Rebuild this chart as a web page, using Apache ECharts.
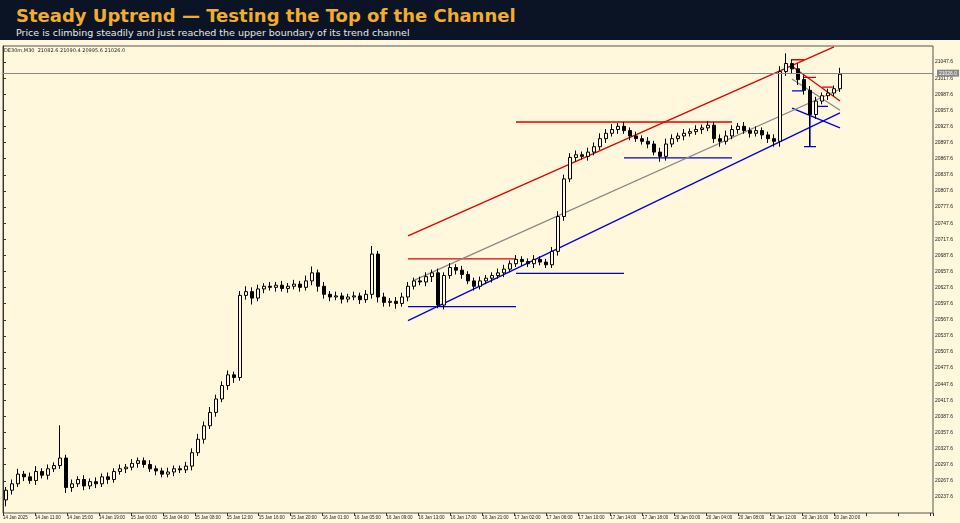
<!DOCTYPE html>
<html>
<head>
<meta charset="utf-8">
<script src="https://cdn.jsdelivr.net/npm/echarts@6/dist/echarts.min.js"></script>
<style>
  html, body { margin: 0; padding: 0; background: #fff8dc; }
  #head { height: 40px; background: #0b1424; padding: 0 16px; box-sizing: border-box; }
  #head h1 { margin: 0; padding-top: 5px; font: bold 18px "DejaVu Sans", sans-serif; color: #f0ad2e; }
  #head p { margin: 1px 0 0; font: 9.5px "DejaVu Sans", sans-serif; color: #e8e8e8; }
  #chart { width: 960px; height: 483px; }
</style>
</head>
<body>
<div id="head">
  <h1>Steady Uptrend — Testing the Top of the Channel</h1>
  <p>Price is climbing steadily and just reached the upper boundary of its trend channel</p>
</div>
<div id="chart"></div>
<script>
// closes per bar (open = previous close)
const firstOpen = 20232;
const closes = [
  20250, 20262, 20280, 20275, 20268, 20285, 20278, 20290, 20296,
  20310, 20255,
  20262, 20270, 20258, 20266, 20262, 20275, 20270, 20285, 20290,
  20293, 20300, 20305, 20298, 20290, 20286, 20280, 20284, 20290, 20288, 20295,
  20320, 20345, 20370, 20395, 20420, 20445, 20465, 20460,
  20613,
  20620, 20608, 20625, 20630, 20628, 20632, 20626, 20630, 20634, 20628, 20640, 20655,
  20630, 20615, 20610, 20612, 20606, 20610, 20612, 20605, 20615, 20690,
  20610, 20600, 20602, 20598, 20610,
  20630, 20640, 20638, 20648, 20655, 20595, 20650,
  20665, 20660, 20652, 20640, 20630, 20640, 20645, 20650, 20655,
  20662, 20672, 20680, 20676, 20672, 20680, 20675, 20670,
  20695, 20760, 20830, 20870, 20875,
  20872, 20880, 20890, 20905, 20915, 20922, 20928, 20920, 20910,
  20905, 20900, 20895, 20880, 20872, 20895, 20905, 20910,
  20915, 20918, 20922, 20925, 20930, 20905, 20900, 20910, 20922,
  20928, 20920, 20915, 20920, 20912, 20905, 20900, 21030,
  21045, 21035, 21015, 20995, 20950, 20975, 20985, 20990, 20998, 21025
];
// upper / lower wick length per bar
const wickHi = [
  6, 8, 10, 6, 8, 10, 6, 8, 6, 61, 6, 8, 6, 8, 6, 8, 6, 8, 6, 8,
  6, 8, 6, 6, 8, 6, 6, 8, 6, 6, 8, 8, 10, 8, 10, 8, 8, 8, 6, 8,
  10, 8, 8, 6, 8, 6, 8, 6, 8, 6, 10, 12, 6, 8, 6, 8, 6, 6, 8, 6,
  8, 15, 6, 8, 6, 8, 8, 8, 6, 8, 8, 6, 8, 6, 8, 6, 8, 6, 6, 8,
  6, 6, 8, 8, 6, 8, 6, 6, 8, 6, 6, 8, 10, 8, 8, 8, 6, 8, 8, 10,
  8, 10, 6, 8, 6, 8, 6, 8, 6, 8, 10, 8, 6, 8, 6, 8, 6, 8, 6, 8,
  10, 8, 6, 8, 6, 8, 6, 6, 8, 10, 19, 8, 10, 8, 8, 8, 6, 8, 6, 12
];
const wickLo = [
  12, 8, 6, 8, 6, 8, 6, 8, 6, 6, 10, 8, 6, 8, 6, 8, 6, 8, 6, 6,
  8, 6, 8, 6, 6, 8, 6, 6, 8, 6, 6, 8, 6, 8, 6, 8, 6, 8, 10, 6,
  8, 12, 6, 8, 6, 8, 6, 8, 6, 8, 6, 8, 10, 8, 8, 6, 8, 6, 6, 8,
  6, 8, 10, 8, 8, 10, 6, 8, 6, 6, 8, 10, 6, 8, 6, 8, 8, 6, 8, 6,
  6, 8, 6, 8, 6, 6, 8, 6, 8, 6, 6, 6, 8, 8, 6, 8, 6, 8, 6, 6,
  8, 6, 8, 6, 8, 6, 6, 8, 6, 10, 8, 6, 6, 8, 6, 6, 8, 6, 8, 10,
  6, 6, 8, 6, 8, 6, 8, 8, 10, 10, 8, 8, 10, 8, 60, 8, 6, 8, 6, 6
];
const emptySlots = 15;
const timeLabels = [
  '14 Jan 2025', '14 Jan 11:00', '14 Jan 15:00', '14 Jan 19:00', '15 Jan 00:00',
  '15 Jan 04:00', '15 Jan 08:00', '15 Jan 12:00', '15 Jan 16:00', '15 Jan 20:00',
  '16 Jan 01:00', '16 Jan 05:00', '16 Jan 09:00', '16 Jan 13:00', '16 Jan 17:00',
  '16 Jan 21:00', '17 Jan 02:00', '17 Jan 06:00', '17 Jan 10:00', '17 Jan 14:00',
  '17 Jan 18:00', '20 Jan 00:00', '20 Jan 04:00', '20 Jan 08:00', '20 Jan 12:00',
  '20 Jan 16:00', '20 Jan 20:00'
];
const yTicks = { min: 20207.6, max: 21077.6, step: 30 };
const currentPrice = 21027;
// drawn objects: [[barIndex, price], [barIndex, price]]
const redLines = [
  [[66.7, 20724], [138.3, 21076]],
  [[66.7, 20681], [84.7, 20681]],
  [[84.7, 20936], [120.8, 20936]],
  [[131, 21040], [138.8, 20975]],
  [[130.5, 21052], [132.5, 21052]],
  [[133, 21019], [135, 21019]],
  [[135.5, 21001], [137.5, 21001]]
];
const blueLines = [
  [[66.7, 20566], [138.8, 20953]],
  [[66.7, 20592], [84.7, 20592]],
  [[84.7, 20654], [102.7, 20654]],
  [[102.7, 20869], [120.5, 20869]],
  [[130.5, 20962], [138.8, 20925]],
  [[130.5, 20994], [132.5, 20994]],
  [[134.5, 20965], [136.5, 20965]],
  [[133.5, 20975], [133.5, 20890]],
  [[132.5, 20890], [134.5, 20890]]
];
const grayLines = [
  [[67.5, 20641], [138.8, 20997]],
  [[130.5, 21016], [138.8, 20958]]
];

const cats = [];
const ohlc = [];
let prev = firstOpen;
closes.forEach((c, i) => {
  ohlc.push([prev, c, Math.min(prev, c) - wickLo[i], Math.max(prev, c) + wickHi[i]]);
  cats.push(i);
  prev = c;
});
for (let k = 0; k < emptySlots; k++) cats.push(closes.length + k);

const seg = (lines, color) => lines.map(l => ({
  type: 'line', data: l, symbol: 'none', silent: true,
  lineStyle: { color: color, width: 1.3 }, xAxisIndex: 0, z: 3
}));

const chart = echarts.init(document.getElementById('chart'));
chart.setOption({
  backgroundColor: '#fff8dc',
  animation: false,
  grid: { left: 2, right: 27, top: 6, bottom: 10, show: true, borderColor: '#555', borderWidth: 1 },
  graphic: [{ type: 'text', left: 4, top: 8,
    style: { text: 'DE30m,M30  21082.6 21090.4 20995.6 21026.0', fontSize: 5, fill: '#222', fontFamily: 'DejaVu Sans' } }],
  xAxis: [
    { type: 'category', data: cats, boundaryGap: true, show: false },
    { type: 'value', min: 0, max: 931, interval: 32, position: 'bottom',
      axisLine: { show: false },
      axisTick: { show: true, length: 3, lineStyle: { color: '#333' } },
      splitLine: { show: false },
      axisLabel: { fontSize: 4.5, color: '#222', margin: 2, align: 'left',
        formatter: v => timeLabels[Math.round(v / 32)] || '' } }
  ],
  yAxis: {
    type: 'value', position: 'right', min: yTicks.min, max: yTicks.max, interval: yTicks.step,
    axisLine: { show: true, lineStyle: { color: '#333' } },
    axisTick: { show: true, inside: false, length: 3, lineStyle: { color: '#333' } },
    splitLine: { show: false },
    axisLabel: { fontSize: 5, color: '#222', margin: 2, formatter: v => v.toFixed(1),
      showMinLabel: false, showMaxLabel: false }
  },
  series: [
    {
      type: 'candlestick', data: ohlc, barWidth: 3, z: 4,
      itemStyle: { color: '#fff8dc', color0: '#000', borderColor: '#000', borderColor0: '#000', borderWidth: 1 },
      markLine: {
        symbol: 'none', silent: true,
        lineStyle: { color: '#888', type: 'solid', width: 1 },
        label: { position: 'end', formatter: '21026.0', fontSize: 5, color: '#fff',
          backgroundColor: '#888', padding: [1, 2], distance: 4 },
        data: [{ yAxis: currentPrice }]
      }
    },
    ...seg(redLines, '#e00000'),
    ...seg(blueLines, '#0000e0'),
    ...seg(grayLines, '#888888')
  ]
});
</script>
</body>
</html>
